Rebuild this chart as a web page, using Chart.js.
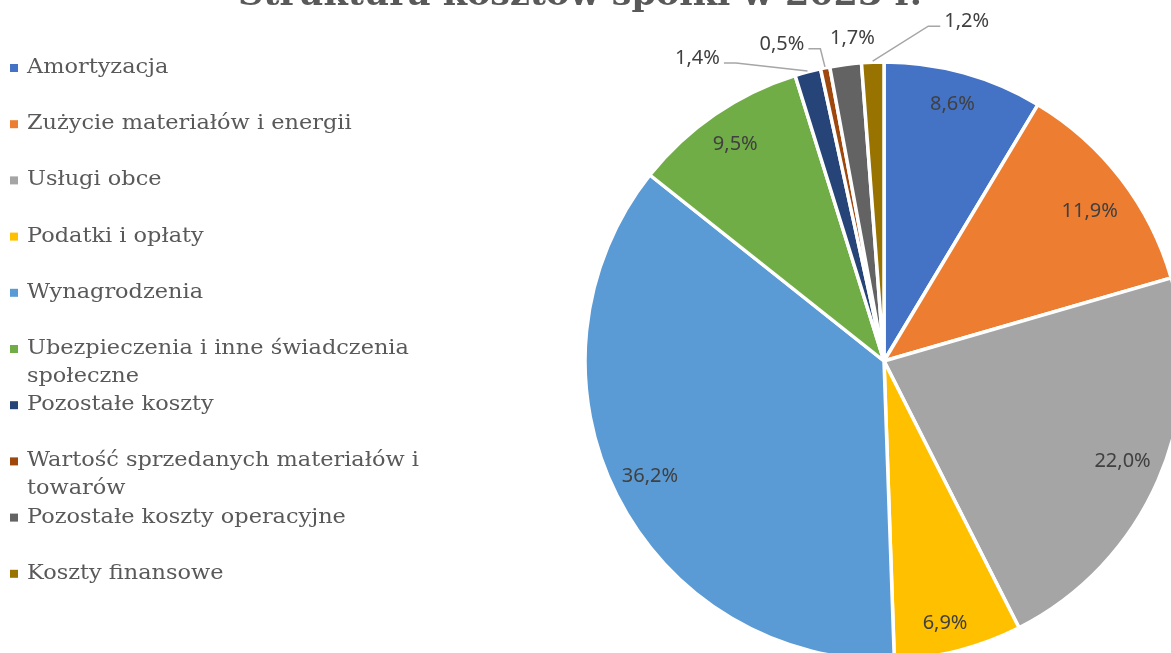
<!DOCTYPE html>
<html>
<head>
<meta charset="utf-8">
<script src="https://cdn.jsdelivr.net/npm/chart.js@4/dist/chart.umd.min.js"></script>
<style>
  html, body { margin: 0; padding: 0; background: #ffffff; overflow: hidden; }
  #wrap { position: relative; width: 1171px; height: 653px; }
</style>
</head>
<body>
<div id="wrap"><canvas id="costChart" width="1171" height="653"></canvas></div>
<script>
// Cost categories and their share of total costs (%)
const categories = [
  'Amortyzacja',
  'Zużycie materiałów i energii',
  'Usługi obce',
  'Podatki i opłaty',
  'Wynagrodzenia',
  'Ubezpieczenia i inne świadczenia społeczne',
  'Pozostałe koszty',
  'Wartość sprzedanych materiałów i towarów',
  'Pozostałe koszty operacyjne',
  'Koszty finansowe'
];
const shares = [8.6, 11.9, 22.0, 6.9, 36.2, 9.5, 1.4, 0.5, 1.7, 1.2];
const sliceColors = [
  '#4472C4', '#ED7D31', '#A5A5A5', '#FFC000', '#5B9BD5',
  '#70AD47', '#264478', '#9E480E', '#636363', '#997300'
];
const chartTitle = 'Struktura kosztów spółki w 2023 r.';

// Where each percentage label sits: inside the slice (fraction of radius,
// angle nudge in degrees) or outside, offset from the slice's outer edge.
const labelPlacement = [
  { inside: true, k: 0.89, dAngle: -0.6 },
  { inside: true, k: 0.85, dAngle: 1.6 },
  { inside: true, k: 0.865, dAngle: -0.8 },
  { inside: true, k: 0.90, dAngle: 1.3 },
  { inside: true, k: 0.872, dAngle: 0.6 },
  { inside: true, k: 0.88, dAngle: 0 },
  { inside: false, dx: -110, dy: -13, leader: true },
  { inside: false, dx: -43, dy: -23, leader: true },
  { inside: false, dx: 7, dy: -25, leader: false },
  { inside: false, dx: 94, dy: -40, leader: true }
];

const fmtPct = v => v.toFixed(1).replace('.', ',') + '%';

// Percentage labels with leader lines for the thin slices
const sliceLabels = {
  id: 'sliceLabels',
  afterDatasetsDraw(chart) {
    const ctx = chart.ctx;
    const meta = chart.getDatasetMeta(0);
    ctx.save();
    ctx.font = '20px "Noto Sans"';
    ctx.fillStyle = '#404040';
    ctx.textAlign = 'center';
    ctx.textBaseline = 'middle';
    meta.data.forEach((arc, i) => {
      const { x, y, startAngle, endAngle, outerRadius } =
        arc.getProps(['x', 'y', 'startAngle', 'endAngle', 'outerRadius'], true);
      const mid = (startAngle + endAngle) / 2;
      const p = labelPlacement[i];
      const text = fmtPct(shares[i]);
      let tx, ty;
      if (p.inside) {
        const a = mid + p.dAngle * Math.PI / 180;
        const rr = outerRadius * p.k;
        tx = x + Math.cos(a) * rr;
        ty = y + Math.sin(a) * rr;
      } else {
        const ex = x + Math.cos(mid) * (outerRadius + 1);
        const ey = y + Math.sin(mid) * (outerRadius + 1);
        tx = ex + p.dx;
        ty = ey + p.dy;
        if (p.leader) {
          const w = ctx.measureText(text).width;
          const side = p.dx < 0 ? 1 : -1;
          const ax = tx + side * (w / 2 + 4);
          const ay = ty + 5;
          ctx.beginPath();
          ctx.moveTo(ax, ay);
          ctx.lineTo(ax + side * 12, ay);
          ctx.lineTo(ex, ey);
          ctx.strokeStyle = '#A6A6A6';
          ctx.lineWidth = 1.5;
          ctx.stroke();
        }
      }
      ctx.fillText(text, tx, ty);
    });
    ctx.restore();
  }
};

// Text drawn with a slight horizontal stretch (wide book-style serif)
function stretchedText(ctx, text, x, y, sx) {
  ctx.save();
  ctx.translate(x, y);
  ctx.scale(sx, 1);
  ctx.fillText(text, 0, 0);
  ctx.restore();
}

// Title (partly above the top edge) and the wrapped legend on the left
const sideLegend = {
  id: 'sideLegend',
  afterDraw(chart) {
    const ctx = chart.ctx;
    ctx.save();
    ctx.fillStyle = '#595959';
    ctx.textAlign = 'center';
    ctx.textBaseline = 'alphabetic';
    ctx.font = 'bold 34px "DejaVu Serif"';
    stretchedText(ctx, chartTitle, 580, 5, 1.03);

    ctx.font = '19.5px "DejaVu Serif"';
    ctx.textAlign = 'left';
    const sx = 1.15;
    const textX = 27, firstBase = 73, step = 56.2, lineH = 28, maxW = 412;
    categories.forEach((name, i) => {
      const base = firstBase + i * step;
      ctx.fillStyle = sliceColors[i];
      ctx.fillRect(10, base - 9, 8, 8);
      // word wrap
      const words = name.split(' ');
      const lines = [];
      let cur = '';
      words.forEach(wd => {
        const t = cur ? cur + ' ' + wd : wd;
        if (ctx.measureText(t).width * sx > maxW && cur) { lines.push(cur); cur = wd; }
        else cur = t;
      });
      lines.push(cur);
      ctx.fillStyle = '#595959';
      lines.forEach((ln, j) => stretchedText(ctx, ln, textX, base + j * lineH, sx));
    });
    ctx.restore();
  }
};

new Chart(document.getElementById('costChart'), {
  type: 'pie',
  data: {
    labels: categories,
    datasets: [{
      data: shares,
      backgroundColor: sliceColors,
      borderColor: '#ffffff',
      borderWidth: 3.5,
      radius: 299,
      clip: false
    }]
  },
  options: {
    responsive: false,
    animation: false,
    events: [],
    layout: { padding: { left: 600, right: 3, top: 72, bottom: 3 } },
    plugins: {
      legend: { display: false },
      title: { display: false },
      tooltip: { enabled: false }
    }
  },
  plugins: [sliceLabels, sideLegend]
});
</script>
</body>
</html>
